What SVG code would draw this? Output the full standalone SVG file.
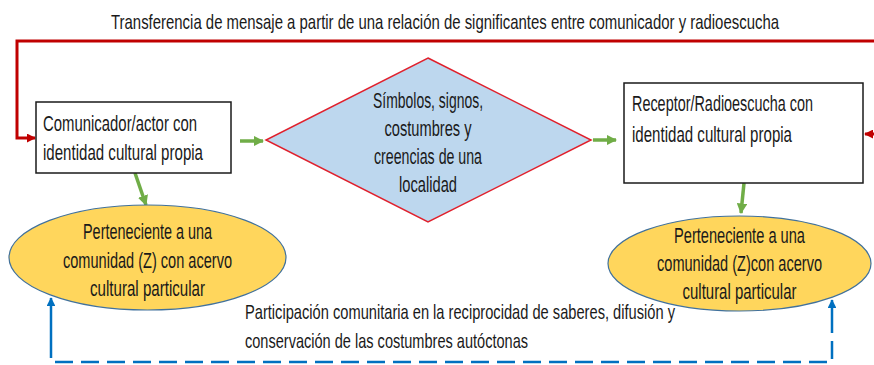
<svg xmlns="http://www.w3.org/2000/svg" width="874" height="365" viewBox="0 0 874 365">
<style>
text{font-family:"Liberation Sans",Arial,sans-serif;font-size:18px;fill:#1a1a1a}
.c{text-anchor:middle}
.t{font-size:17px}
.box{fill:#fff;stroke:#1a1a1a;stroke-width:1.5}
.ell{fill:#FFD65C;stroke:#41719C;stroke-width:1.2}
.red{fill:none;stroke:#C00000;stroke-width:3}
.grn{fill:none;stroke:#70AD47;stroke-width:3.5}
.blu{fill:none;stroke:#0070C0;stroke-width:2.5;stroke-dasharray:18 8}
.blus{fill:none;stroke:#0070C0;stroke-width:2.5}
</style>
<defs>
<marker id="ar" viewBox="0 0 10 10" refX="9" refY="5" markerWidth="3" markerHeight="3" orient="auto"><path d="M0 0 L10 5 L0 10z" fill="#C00000"/></marker>
<marker id="ag" viewBox="0 0 10 10" refX="9" refY="5" markerWidth="3" markerHeight="3" orient="auto"><path d="M0 0 L10 5 L0 10z" fill="#70AD47"/></marker>
<marker id="ab" viewBox="0 0 10 10" refX="9" refY="5" markerWidth="3.5" markerHeight="3.5" orient="auto"><path d="M0 0 L10 5 L0 10z" fill="#0070C0"/></marker>
</defs>
<text class="c t" transform="translate(445,29) scale(1,1.2)" textLength="668" lengthAdjust="spacingAndGlyphs">Transferencia de mensaje a partir de una relación de significantes entre comunicador y radioescucha</text>
<g id="connectors">
<path class="red" d="M878 41 H17 V138 H35" marker-end="url(#ar)"/>
<path class="red" d="M878 134 H865" marker-end="url(#ar)"/>
<path class="grn" d="M240 141 H263" marker-end="url(#ag)"/>
<path class="grn" d="M593 140 H616" marker-end="url(#ag)"/>
<path class="grn" d="M135 173 L146 205" marker-end="url(#ag)"/>
<path class="grn" d="M744 183 L741 213" marker-end="url(#ag)"/>
<path class="blu" d="M51 340 V362 H832 V330"/>
<path class="blus" d="M51 340 V298" marker-end="url(#ab)"/>
<path class="blus" d="M832 330 V300" marker-end="url(#ab)"/>
</g>
<g id="comunicador">
<rect class="box" x="36" y="102" width="195" height="71"/>
<text transform="translate(43,131) scale(1,1.2)" textLength="154" lengthAdjust="spacingAndGlyphs">Comunicador/actor con</text>
<text transform="translate(43,160) scale(1,1.2)" textLength="160" lengthAdjust="spacingAndGlyphs">identidad cultural propia</text>
</g>
<g id="simbolos">
<path d="M428 58 L591 140 L428 222 L266 140z" fill="#BDD7EE" stroke="#E0202C" stroke-width="1.5"/>
<text class="c" transform="translate(428,108) scale(1,1.2)" textLength="110" lengthAdjust="spacingAndGlyphs">Símbolos, signos,</text>
<text class="c" transform="translate(428,136) scale(1,1.2)" textLength="87" lengthAdjust="spacingAndGlyphs">costumbres y</text>
<text class="c" transform="translate(428,164) scale(1,1.2)" textLength="108" lengthAdjust="spacingAndGlyphs">creencias de una</text>
<text class="c" transform="translate(428,192) scale(1,1.2)" textLength="58" lengthAdjust="spacingAndGlyphs">localidad</text>
</g>
<g id="receptor">
<rect class="box" x="624" y="83" width="239" height="100"/>
<text transform="translate(632,111) scale(1,1.2)" textLength="181" lengthAdjust="spacingAndGlyphs">Receptor/Radioescucha con</text>
<text transform="translate(632,142) scale(1,1.2)" textLength="160" lengthAdjust="spacingAndGlyphs">identidad cultural propia</text>
</g>
<g id="comunidad-izq">
<ellipse class="ell" cx="147.5" cy="257.5" rx="138.5" ry="52.5"/>
<text class="c" transform="translate(147.5,239) scale(1,1.2)" textLength="129" lengthAdjust="spacingAndGlyphs">Perteneciente a una</text>
<text class="c" transform="translate(147.5,268) scale(1,1.2)" textLength="169" lengthAdjust="spacingAndGlyphs">comunidad (Z) con acervo</text>
<text class="c" transform="translate(147.5,296) scale(1,1.2)" textLength="115" lengthAdjust="spacingAndGlyphs">cultural particular</text>
</g>
<g id="comunidad-der">
<ellipse class="ell" cx="739.5" cy="263.5" rx="131.5" ry="47.5"/>
<text class="c" transform="translate(739.5,243) scale(1,1.2)" textLength="131" lengthAdjust="spacingAndGlyphs">Perteneciente a una</text>
<text class="c" transform="translate(739.5,271) scale(1,1.2)" textLength="165" lengthAdjust="spacingAndGlyphs">comunidad (Z)con acervo</text>
<text class="c" transform="translate(739.5,299) scale(1,1.2)" textLength="114" lengthAdjust="spacingAndGlyphs">cultural particular</text>
</g>
<text class="t" transform="translate(245,319) scale(1,1.2)" textLength="430" lengthAdjust="spacingAndGlyphs">Participación comunitaria en la reciprocidad de saberes, difusión y</text>
<text class="t" transform="translate(245,348) scale(1,1.2)" textLength="283" lengthAdjust="spacingAndGlyphs">conservación de las costumbres autóctonas</text>
</svg>
